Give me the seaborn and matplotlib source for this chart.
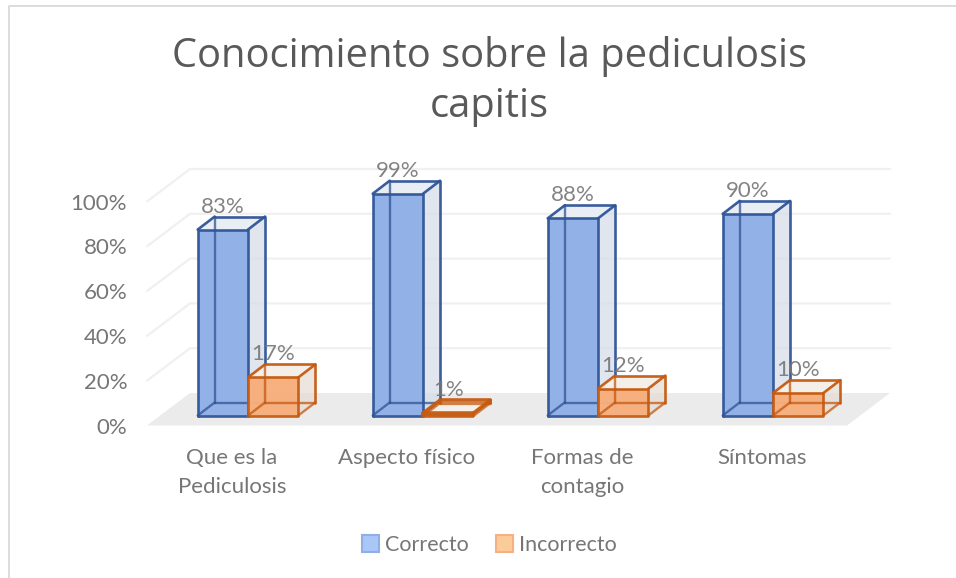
#Conocimiento sobre la pediculosis capitis: fake 3D clustered columns on top of seaborn bars

import seaborn as sns
import matplotlib.pyplot as plt
import matplotlib.patches as mpatches
import matplotlib.transforms as mtrans
import pandas as pd

categorias = ["Que es la\nPediculosis", "Aspecto físico", "Formas de\ncontagio", "Síntomas"]
correcto = [83, 99, 88, 90]
incorrecto = [17, 1, 12, 10]
ticks_y = [0, 20, 40, 60, 80, 100]
series = ["Correcto", "Incorrecto"]

df = pd.DataFrame({"categoria": categorias, "Correcto": correcto, "Incorrecto": incorrecto})
df = df.melt(id_vars="categoria", var_name="serie", value_name="valor")

W, H = 956, 578
GRIS = "#767676"
BLUE_EDGE = "#2f5597"
ORANGE_EDGE = "#c55a11"

sns.set_theme(style="white")
plt.rcParams["font.family"] = ["Lato", "DejaVu Sans"]

fig = plt.figure(figsize=(W / 100, H / 100), dpi=100)
# axes box = plane of the bar fronts, in pixels
ax = fig.add_axes([160.5 / W, 1 - 415.5 / H, 700 / W, 224 / H])

sns.barplot(data=df, x="categoria", y="valor", hue="serie", hue_order=series,
            palette=["#8fafe6", "#f7ae7c"], width=0.575, gap=0, legend=False,
            saturation=1, ax=ax, zorder=5)
ax.set_ylim(0, 100)
ax.set_xlim(-0.5, 3.5)
for s in ax.spines.values():
    s.set_visible(False)

# floor and grid, from the axis limits
x0, x1 = ax.get_xlim()
front = (-13.5, -10)
back = (29.5, 22.5)
fx0, fy0 = ax.transData.transform((x0, 0)) + front
fx1, _ = ax.transData.transform((x1, 0)) + front
bx0, by0 = ax.transData.transform((x0, 0)) + back
bx1, _ = ax.transData.transform((x1, 0)) + back
fig.add_artist(mpatches.Polygon([(fx0, fy0), (bx0, by0), (bx1, by0), (fx1, fy0)],
                                closed=True, transform=None, fc="#ebebeb", ec="none", zorder=0.5))
for t in ticks_y[1:]:
    _, ty = ax.transData.transform((0, t))
    fig.add_artist(plt.Line2D([fx0, bx0, bx1], [ty + front[1], ty + back[1], ty + back[1]],
                              transform=None, color="#f0f0f0", lw=1.6, zorder=0.6))

# depth of each bar
DX, DY = 17, 13
n = len(categorias)
for i, bar in enumerate(ax.patches[:2 * n]):
    edge = BLUE_EDGE if i < n else ORANGE_EDGE
    x, y = bar.get_xy()
    w, h = bar.get_width(), bar.get_height()
    (px0, py0) = ax.transData.transform((x, y))
    (px1, py1) = ax.transData.transform((x + w, y + h))
    tono = "#d5dbe8" if i < n else "#e6dbd2"
    z = 3 + i * 0.1 if i < n else 6 + i * 0.1
    side = [(px1, py0), (px1 + DX, py0 + DY), (px1 + DX, py1 + DY), (px1, py1)]
    top = [(px0, py1), (px0 + DX, py1 + DY), (px1 + DX, py1 + DY), (px1, py1)]
    fig.add_artist(mpatches.Polygon(side, closed=True, transform=None, fc=tono, ec="none", alpha=0.7, zorder=z))
    fig.add_artist(mpatches.Polygon(top, closed=True, transform=None, fc="#e9edf4" if i < n else "#f4efe9",
                                    ec="none", zorder=z))
    # front face goes in a figure patch too, so it stacks with the side faces
    bar.set_visible(False)
    fig.add_artist(mpatches.Rectangle((px0, py0), px1 - px0, py1 - py0, transform=None,
                                      fc=bar.get_facecolor(), ec="none", alpha=0.97, zorder=z + 0.01))
    # wire frame, hidden edges lighter
    lw = 1.9 if h > 3 else 2.6
    hidden = [
        ([px0 + DX, px1 + DX], [py0 + DY, py0 + DY]),
        ([px0 + DX, px0 + DX], [py0 + DY, py1 + DY]),
        ([px0, px0 + DX], [py0, py0 + DY]),
        ([px1, px1 + DX], [py0, py0 + DY]),
    ]
    seen = [
        ([px0, px1, px1, px0, px0], [py0, py0, py1, py1, py0]),
        ([px0 + DX, px1 + DX, px1 + DX], [py1 + DY, py1 + DY, py0 + DY]),
        ([px0, px0 + DX], [py1, py1 + DY]),
        ([px1, px1 + DX], [py1, py1 + DY]),
    ]
    for xs, ys in hidden:
        fig.add_artist(plt.Line2D(xs, ys, transform=None, color=edge, lw=lw * 0.9, alpha=0.75,
                                  solid_joinstyle="round", zorder=z + 0.02))
    for xs, ys in seen:
        fig.add_artist(plt.Line2D(xs, ys, transform=None, color=edge, lw=lw, alpha=0.95,
                                  solid_joinstyle="round", zorder=z + 0.03))
    # percentage label centred on the bar, just above its back top edge
    fig.text((px0 + px1) / 2 / W, (py1 + DY + 4) / H, f"{int(h)}%", ha="center", va="baseline",
             fontsize=16, color=GRIS, alpha=0.9, zorder=20)

# tick labels sit on the floor's front edge
ax.set_yticks(ticks_y)
ax.set_yticklabels([f"{t}%" for t in ticks_y], fontsize=16, color=GRIS)
ax.tick_params(axis="y", length=0, pad=24)
for lab in ax.get_yticklabels():
    lab.set_transform(lab.get_transform() + mtrans.Affine2D().translate(0, -10))
ax.set_xticks(range(n))
ax.set_xticklabels(categorias, fontsize=16, color=GRIS, linespacing=1.55)
ax.tick_params(axis="x", length=0, pad=23.5)
for lab, shift in zip(ax.get_xticklabels(), [-16, -16, -16, -11]):
    lab.set_transform(lab.get_transform() + mtrans.Affine2D().translate(shift, 0))
ax.set_xlabel("")
ax.set_ylabel("")
ax.patch.set_alpha(0)

fig.text(489 / W, 1 - 81.5 / H, "Conocimiento sobre la pediculosis\ncapitis", ha="center", va="center",
         fontsize=28.7, color="#595959", linespacing=1.3, family=["Open Sans", "DejaVu Sans"])

handles = [mpatches.Patch(fc="#a9c8f8", ec="#8fafe6", lw=1.5, label="Correcto"),
           mpatches.Patch(fc="#fdcb98", ec="#f4b183", lw=1.5, label="Incorrecto")]
fig.legend(handles=handles, loc="center", bbox_to_anchor=(489.5 / W, 1 - 545 / H), ncol=2, frameon=False,
           fontsize=15.5, labelcolor=GRIS, handlelength=0.79, handleheight=0.79,
           handletextpad=0.3, columnspacing=1.25)

# picture border, left and top only
fig.add_artist(plt.Line2D([8.5, 8.5, W], [0, H - 6, H - 6], transform=None, color="#dcdcdc", lw=1.4))

fig.savefig("out.png", dpi=100)
